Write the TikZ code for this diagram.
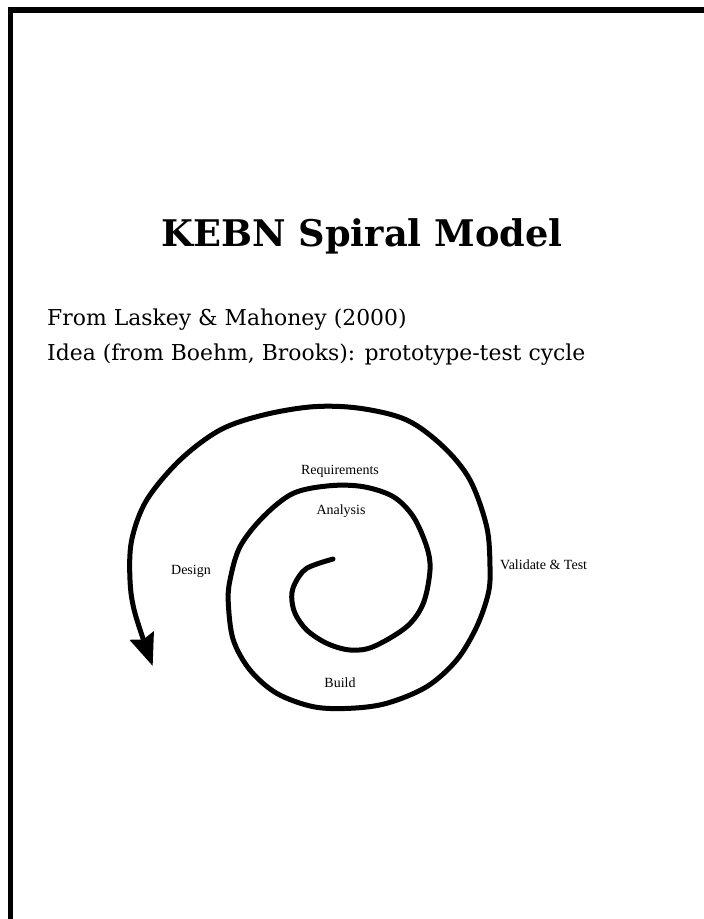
\documentclass[tikz,border=0pt]{standalone}
\usepackage{fontspec}
\setmainfont{DejaVu Serif}
\newfontfamily\lblfont{Liberation Serif}
\usetikzlibrary{arrows.meta}
\begin{document}
\begin{tikzpicture}[x=1pt,y=-1pt,
  lbl/.style={font=\lblfont\fontsize{14}{16}\selectfont, inner sep=0pt},
  body/.style={font=\fontsize{21.9}{26}\selectfont, anchor=base west, inner sep=0pt},
  spiral/.style={line width=5pt, line cap=round}]
\useasboundingbox (0,0) rectangle (704,919);
\fill[white] (0,0) rectangle (704,919);
% frame
\fill[black] (8,6.7) rectangle (704,13.3);
\fill[black] (8,6.7) rectangle (12.7,919);
% texts
\node[font=\bfseries\fontsize{36.7}{42}\selectfont, anchor=base, inner sep=0pt] (title) at (362,246.7) {KEBN Spiral Model};
\node[body] (l1) at (47,325) {From Laskey \& Mahoney (2000)};
\node[body] (l2) at (47,360) {Idea (from Boehm, Brooks): prototype-test cycle};
% spiral
\draw[spiral, -{Stealth[length=32pt,width=25pt,inset=4pt]}] plot[smooth, tension=0.55] coordinates {
 (333,559) (306.7,568.3) (295,583.3) (291.7,596.7) (295,613.3) (306.7,630)
 (326.7,643.3) (350,650) (373.3,646.7) (406.7,626.7) (423.3,603.3) (430,570)
 (426.7,546.7) (413.3,516.7) (393.3,496.7) (363.3,486.7) (330,485.7) (293.3,493.3)
 (263.3,516.7) (240,546.7) (230,580) (228.3,603.3) (233.3,640) (250,670)
 (276.7,693.3) (313.3,706.7) (350,708.3) (386.7,703.3) (426.7,686.7) (456.7,660)
 (476.7,626.7) (488.3,593.3) (490,566.7) (486.7,526.7) (470,480) (443.3,446.7)
 (406.7,420) (360,408.3) (313.3,406.7) (263.3,415) (220,430) (180,460)
 (146.7,500) (131.7,540) (130,580) (135,613.3) (152.7,666)};
% labels
\node[lbl] (req) at (340,471.7) {Requirements};
\node[lbl] (ana) at (341,510.7) {Analysis};
\node[lbl] (des) at (191,571.7) {Design};
\node[lbl] (bld) at (340,682.3) {Build};
\node[lbl, anchor=west] (val) at (500,565) {Validate \& Test};
\end{tikzpicture}
\end{document}
